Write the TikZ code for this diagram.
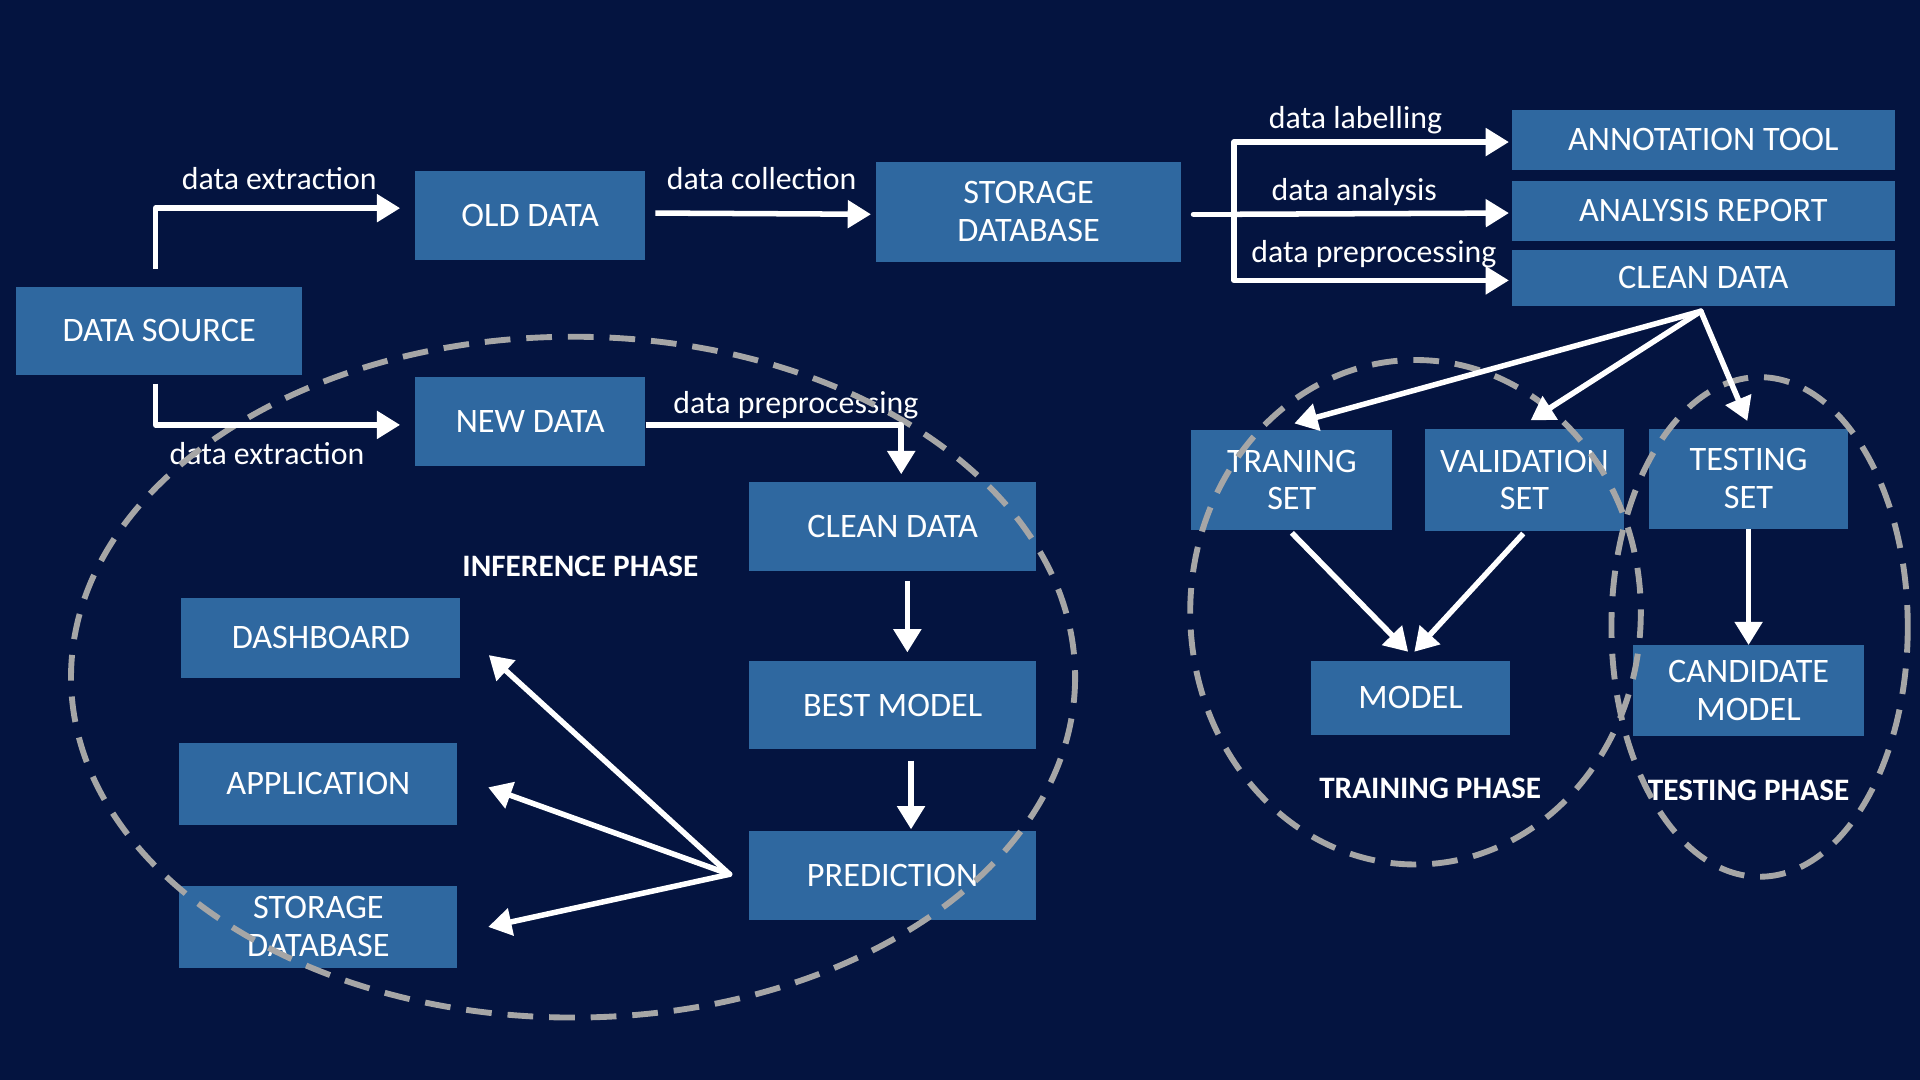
\documentclass[tikz,border=0pt]{standalone}
\usepackage{fontspec}
\setmainfont{Carlito}
\usetikzlibrary{arrows.meta,calc}
\definecolor{bg}{RGB}{4,20,64}
\definecolor{boxblue}{RGB}{47,104,160}
\definecolor{dashgray}{RGB}{166,166,166}
\begin{document}
\begin{tikzpicture}[x=1pt,y=-1pt,
  box/.style={fill=boxblue, text=white, font=\fontsize{28}{31}\selectfont, align=center, inner sep=0pt, anchor=center},
  lbl/.style={text=white, font=\fontsize{26}{30}\selectfont, inner sep=0pt, anchor=base},
  phase/.style={text=white, font=\bfseries\fontsize{25.5}{29}\selectfont, inner sep=0pt, anchor=base},
  arr/.style={draw=white, line width=4.5pt, line join=round, -{Triangle[length=19pt,width=22pt]}},
  ln/.style={draw=white, line width=4.5pt, line cap=round},
  ring/.style={draw=dashgray, line width=4.8pt, dash pattern=on 21pt off 13pt}]
\fill[bg] (0,0) rectangle (1568,882);
\useasboundingbox (0,0) rectangle (1568,882);
% boxes
\node[box, minimum width=234pt, minimum height=72pt] (ds) at (130,270) {DATA SOURCE};
\node[box, minimum width=188pt, minimum height=72pt] (old) at (433,176) {OLD DATA};
\node[box, minimum width=249pt, minimum height=82pt] (stor) at (840,173) {STORAGE\\DATABASE};
\node[box, minimum width=313pt, minimum height=49pt] (anno) at (1391,114) {ANNOTATION TOOL};
\node[box, minimum width=313pt, minimum height=49pt] (anal) at (1391,172) {ANALYSIS REPORT};
\node[box, minimum width=313pt, minimum height=46pt] (ctop) at (1391,227) {CLEAN DATA};
\node[box, minimum width=188pt, minimum height=73pt] (new) at (433,344) {NEW DATA};
\node[box, minimum width=234pt, minimum height=73pt] (cinf) at (729,430) {CLEAN DATA};
\node[box, minimum width=234pt, minimum height=72pt] (best) at (729,576) {BEST MODEL};
\node[box, minimum width=234pt, minimum height=73pt] (pred) at (729,715) {PREDICTION};
\node[box, minimum width=228pt, minimum height=66pt] (dash) at (262,521) {DASHBOARD};
\node[box, minimum width=227pt, minimum height=67pt] (app) at (260,640) {APPLICATION};
\node[box, minimum width=227pt, minimum height=67pt] (stor2) at (260,757) {STORAGE\\DATABASE};
\node[box, minimum width=164pt, minimum height=82pt] (train) at (1055,392) {TRANING\\SET};
\node[box, minimum width=163pt, minimum height=83pt] (val) at (1245,392) {VALIDATION\\SET};
\node[box, minimum width=163pt, minimum height=82pt] (test) at (1428,391) {TESTING\\SET};
\node[box, minimum width=163pt, minimum height=61pt] (model) at (1152,570) {MODEL};
\node[box, minimum width=188pt, minimum height=74pt] (cand) at (1428,564) {CANDIDATE\\MODEL};
% labels
\node[lbl] (l1) at (228,155) {data extraction};
\node[lbl] (l2) at (622,155) {data collection};
\node[lbl] (l3) at (1107,105) {data labelling};
\node[lbl] (l4) at (1106,164) {data analysis};
\node[lbl] (l5) at (1122,214) {data preprocessing};
\node[lbl] (l6) at (650,338) {data preprocessing};
\node[lbl] (l7) at (218,379) {data extraction};
\node[phase] (p1) at (474,471) {INFERENCE PHASE};
\node[phase] (p2) at (1168,652) {TRAINING PHASE};
\node[phase] (p3) at (1428,654) {TESTING PHASE};
% dashed phase rings
\draw[ring] (468,553) ellipse [x radius=410, y radius=278];
\draw[ring] (1156,500) ellipse [x radius=184, y radius=206];
\draw[ring] (1437,512) ellipse [x radius=121, y radius=204];
% connectors
\draw[arr] ([xshift=-3pt,yshift=14pt]ds.north) |- ([xshift=-12pt,yshift=6pt]old.west);
\draw[arr] ([xshift=-3pt,yshift=-7pt]ds.south) |- ([xshift=-12pt,yshift=-3pt]new.west);
\draw[arr] ([xshift=8pt,yshift=2pt]old.east) -- ([xshift=-4pt,yshift=-2pt]stor.west);
\coordinate (br) at ([xshift=43pt,yshift=-2pt]stor.east);
\draw[ln] ([xshift=10pt,yshift=-2pt]stor.east) -- (br);
\draw[arr] (br) |- ([xshift=-2pt,yshift=-2pt]anno.west);
\draw[arr] (br) -- ([xshift=-2pt,yshift=-2pt]anal.west);
\draw[arr] (br) |- ([xshift=-2pt,yshift=-2pt]ctop.west);
\draw[arr] ([yshift=-3pt]new.east) -| ([xshift=7pt,yshift=6pt]cinf.north);
\draw[arr] ([xshift=12pt,yshift=-8pt]cinf.south) -- ([xshift=12pt,yshift=7pt]best.north);
\draw[arr] ([xshift=15pt,yshift=-9pt]best.south) -- ([xshift=15pt,yshift=1pt]pred.north);
\coordinate (pf) at ([xshift=-16pt,yshift=1pt]pred.west);
\draw[arr, line cap=round] (pf) -- ([xshift=23pt,yshift=-14pt]dash.east);
\draw[arr, line cap=round] (pf) -- ([xshift=25pt,yshift=-3pt]app.east);
\draw[arr, line cap=round] (pf) -- ([xshift=25pt]stor2.east);
\coordinate (cf) at ([xshift=-2pt,yshift=-4pt]ctop.south);
\draw[arr, line cap=round] (cf) -- ([xshift=2pt,yshift=5pt]train.north);
\draw[arr, line cap=round] (cf) -- ([xshift=5pt,yshift=7pt]val.north);
\draw[arr, line cap=round] (cf) -- ([xshift=-1pt,yshift=6pt]test.north);
\draw[arr] ([yshift=-2pt]train.south) -- ([xshift=-2pt,yshift=7pt]model.north);
\draw[arr] ([xshift=-1pt,yshift=-2pt]val.south) -- ([xshift=3pt,yshift=7pt]model.north);
\draw[arr] (test.south) -- (cand.north);
\end{tikzpicture}
\end{document}
